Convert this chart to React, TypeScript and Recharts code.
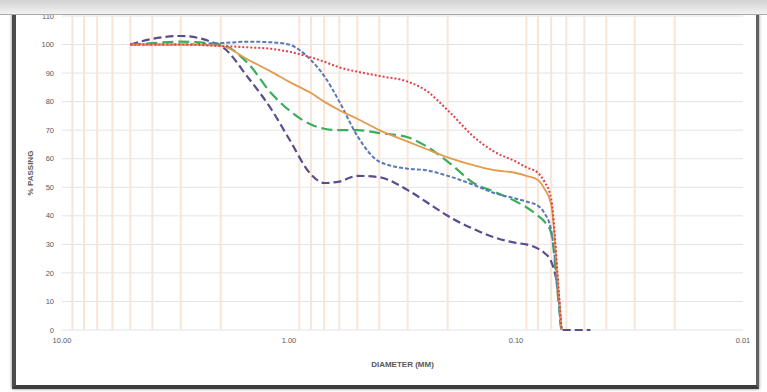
import { LineChart, Line, XAxis, YAxis, CartesianGrid, ReferenceLine } from "recharts";

// sieve sizes (mm) where each curve is read
const diameters = [5, 4, 3, 2, 1.5, 1.2, 1.0, 0.8, 0.7, 0.6, 0.5, 0.4, 0.3, 0.25, 0.2, 0.15, 0.125, 0.1, 0.09, 0.08, 0.075, 0.07, 0.065, 0.063, 0.047];

const orangePassing = [100, 100, 100, 99.5, 94.5, 90.5, 87, 83, 80, 77, 74, 70, 66, 63.5, 60.5, 57.5, 56, 55, 54, 52.5, 49.5, 44, 14, 0, null];
const redPassing = [100, 100, 100, 99.5, 99, 98.5, 97.5, 95.5, 94, 92, 90.5, 89, 87, 84, 77, 67, 62.5, 59, 57, 55, 52, 46, 15, 0, null];
const bluePassing = [100, 100, 100, 100.5, 101, 100.8, 100, 94.5, 89, 80, 68, 59, 56.5, 56, 54, 50.5, 48, 46, 45, 43.5, 41, 35, 12, 0, null];
const greenPassing = [100, 100.5, 101, 100, 93, 83, 77, 72, 70.5, 70, 70, 69, 67.5, 64.5, 59, 51, 48.5, 45, 43, 40, 38, 34, 10, 0, null];
const purplePassing = [100, 102, 103, 99.5, 88, 77.5, 67, 54.5, 51.5, 52, 54, 53.5, 49, 45, 40, 35, 32.5, 30.5, 30, 28.5, 27, 24, 12, 0, 0];

const xTicks = [10, 1, 0.1, 0.01];
const yTicks = [0, 10, 20, 30, 40, 50, 60, 70, 80, 90, 100, 110];
const minorLines = [9, 8, 7, 6, 5, 4, 3, 2, 0.9, 0.8, 0.7, 0.6, 0.5, 0.4, 0.3, 0.2, 0.09, 0.08, 0.07, 0.06, 0.05, 0.04, 0.03, 0.02];

const data = diameters.map((d, i) => ({
  d,
  orange: orangePassing[i],
  red: redPassing[i],
  blue: bluePassing[i],
  green: greenPassing[i],
  purple: purplePassing[i],
}));

const font = "'Liberation Sans', Arial, sans-serif";
const tickStyle = { fill: "#595959", fontSize: 7.5, fontFamily: font };

export default function App() {
  return (
    <div
      style={{
        position: "absolute",
        left: 0,
        top: 0,
        width: 767,
        height: 392,
        background: "#fff",
        overflow: "hidden",
      }}
    >
      {/* photographed frame */}
      <div
        style={{
          position: "absolute",
          left: 12,
          top: 12,
          width: 747,
          height: 377,
          boxSizing: "border-box",
          borderLeft: "4px solid #4c4c4c",
          borderRight: "3px solid #606060",
          borderBottom: "4px solid #3c3c3c",
          boxShadow: "0 0 3px rgba(0,0,0,0.5)",
        }}
      />
      <div style={{ position: "absolute", left: 0, top: 0 }}>
        <LineChart
          width={767}
          height={392}
          data={data}
          margin={{ top: 16, right: 24, bottom: 22, left: 32 }}
        >
          <CartesianGrid vertical={false} stroke="#e3e3e3" />
          {minorLines.map((v) => (
            <ReferenceLine key={v} x={v} stroke="#fbe4d4" strokeWidth={2} />
          ))}
          <XAxis
            dataKey="d"
            type="number"
            scale="log"
            domain={[0.01, 10]}
            reversed
            ticks={xTicks}
            interval={0}
            allowDataOverflow
            tickFormatter={(v) => Number(v).toFixed(2)}
            tick={tickStyle}
            axisLine={false}
            tickLine={false}
            height={40}
            label={{
              value: "DIAMETER (MM)",
              position: "insideBottom",
              offset: 3,
              style: { fill: "#595959", fontSize: 8, fontWeight: "bold", fontFamily: font },
            }}
          />
          <YAxis
            type="number"
            domain={[0, 110]}
            ticks={yTicks}
            interval={0}
            tick={tickStyle}
            axisLine={false}
            tickLine={false}
            width={30}
            label={{
              value: "% PASSING",
              angle: -90,
              position: "insideLeft",
              offset: -2,
              style: { fill: "#595959", fontSize: 8, fontWeight: "bold", fontFamily: font, textAnchor: "middle" },
            }}
          />
          <Line
            dataKey="purple"
            type="monotone"
            stroke="#5a4c8e"
            strokeWidth={2.2}
            strokeDasharray="8 4"
            dot={false}
            isAnimationActive={false}
          />
          <Line
            dataKey="green"
            type="monotone"
            stroke="#3aae5c"
            strokeWidth={2.2}
            strokeDasharray="11 5"
            dot={false}
            isAnimationActive={false}
          />
          <Line
            dataKey="blue"
            type="monotone"
            stroke="#5a77b8"
            strokeWidth={2}
            strokeDasharray="4 2"
            dot={false}
            isAnimationActive={false}
          />
          <Line
            dataKey="orange"
            type="monotone"
            stroke="#e39b4f"
            strokeWidth={1.8}
            dot={false}
            isAnimationActive={false}
          />
          <Line
            dataKey="red"
            type="monotone"
            stroke="#e2404a"
            strokeWidth={2}
            strokeDasharray="2 2"
            dot={false}
            isAnimationActive={false}
          />
        </LineChart>
      </div>
      {/* top edge of the photo covers the 110 row */}
      <div
        style={{
          position: "absolute",
          left: 0,
          top: 0,
          width: 767,
          height: 14,
          background: "linear-gradient(#d2d2d2, #f2f2f2)",
          borderBottom: "1px solid #a8a8a8",
        }}
      />
    </div>
  );
}
